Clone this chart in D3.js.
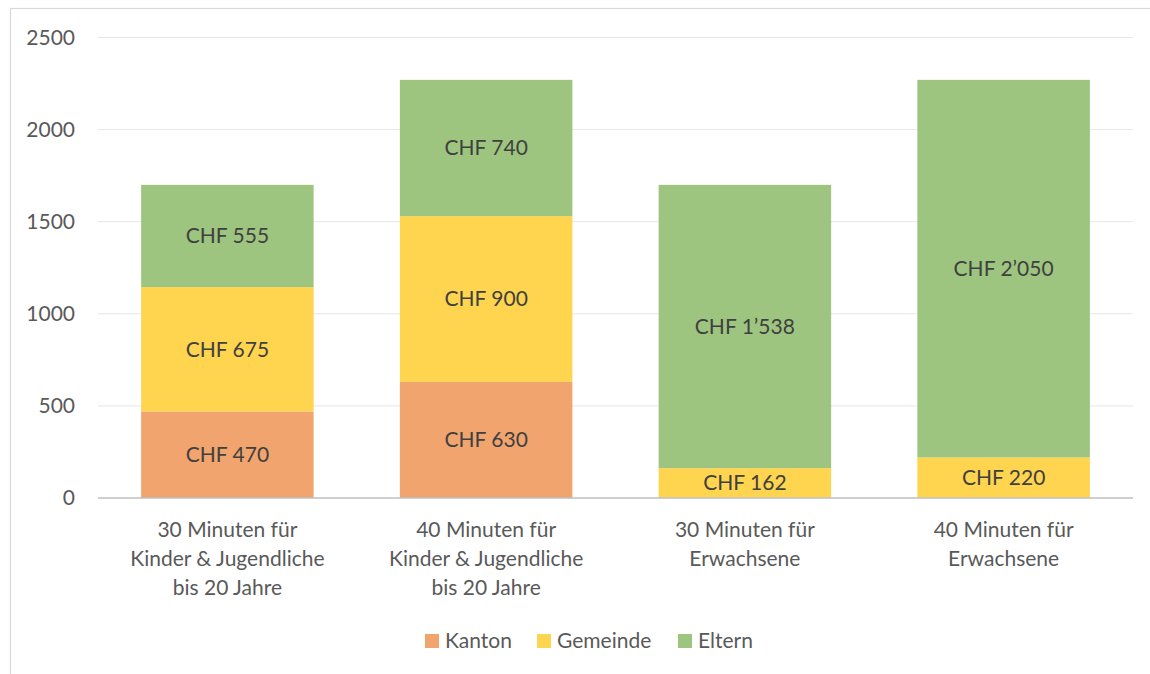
<!DOCTYPE html>
<html>
<head>
<meta charset="utf-8">
<script src="https://cdn.jsdelivr.net/npm/d3@7"></script>
<style>
  body { margin: 0; background: #fff; }
  text { font-family: Lato, "Open Sans", sans-serif; fill: #595959; }
</style>
</head>
<body>
<div id="chart"></div>
<script>
var categories = [
  ["30 Minuten für", "Kinder & Jugendliche", "bis 20 Jahre"],
  ["40 Minuten für", "Kinder & Jugendliche", "bis 20 Jahre"],
  ["30 Minuten für", "Erwachsene"],
  ["40 Minuten für", "Erwachsene"]
];
var seriesNames = ["Kanton", "Gemeinde", "Eltern"];
var kanton = [470, 630, 0, 0];
var gemeinde = [675, 900, 162, 220];
var eltern = [555, 740, 1538, 2050];
var yTicks = [0, 500, 1000, 1500, 2000, 2500];
var colors = ["#F1A46E", "#FFD44F", "#9DC57F"];

var W = 1150, H = 674;
var margin = {left: 98, right: 17, top: 37.5, bottom: 176};
var fs = "21px";

var svg = d3.select("#chart").append("svg")
    .attr("width", W)
    .attr("height", H);

// chart frame
svg.append("rect")
    .attr("x", 10.5).attr("y", 8.5)
    .attr("width", W + 20).attr("height", H + 20)
    .attr("fill", "none")
    .attr("stroke", "#d9d9d9")
    .attr("stroke-width", 1.2);

var x = d3.scaleBand()
    .domain(d3.range(categories.length))
    .range([margin.left, W - margin.right])
    .paddingInner(1 / 3)
    .paddingOuter(1 / 6);

var y = d3.scaleLinear()
    .domain([0, 2500])
    .range([H - margin.bottom, margin.top]);

// gridlines
svg.append("g").selectAll("line")
    .data(yTicks.filter(function(d) { return d > 0; }))
    .enter().append("line")
    .attr("x1", margin.left).attr("x2", W - margin.right)
    .attr("y1", function(d) { return y(d); })
    .attr("y2", function(d) { return y(d); })
    .attr("stroke", "#e6e6e6")
    .attr("stroke-width", 1);

// y tick labels
svg.append("g").selectAll("text")
    .data(yTicks)
    .enter().append("text")
    .attr("x", 75)
    .attr("y", function(d) { return y(d); })
    .attr("dy", "0.35em")
    .attr("text-anchor", "end")
    .style("font-size", fs)
    .text(function(d) { return d; });

var table = categories.map(function(c, i) {
  return {i: i, Kanton: kanton[i], Gemeinde: gemeinde[i], Eltern: eltern[i]};
});
var stacked = d3.stack().keys(seriesNames)(table);

var layers = svg.append("g").selectAll("g")
    .data(stacked)
    .enter().append("g")
    .attr("fill", function(d, i) { return colors[i]; });

layers.selectAll("rect")
    .data(function(d) { return d; })
    .enter().append("rect")
    .attr("x", function(d) { return x(d.data.i); })
    .attr("width", x.bandwidth())
    .attr("y", function(d) { return y(d[1]); })
    .attr("height", function(d) { return y(d[0]) - y(d[1]); });

function fmt(v) {
  return "CHF " + d3.format(",")(v).replace(/,/g, "\u2019");
}

layers.selectAll("text")
    .data(function(d) { return d.filter(function(s) { return s[1] - s[0] > 0; }); })
    .enter().append("text")
    .attr("x", function(d) { return x(d.data.i) + x.bandwidth() / 2; })
    .attr("y", function(d) { return (y(d[0]) + y(d[1])) / 2; })
    .attr("dy", "0.35em")
    .attr("text-anchor", "middle")
    .style("font-size", fs)
    .style("fill", "#404040")
    .text(function(d) { return fmt(d[1] - d[0]); });

// baseline
svg.append("line")
    .attr("x1", margin.left).attr("x2", W - margin.right)
    .attr("y1", y(0)).attr("y2", y(0))
    .attr("stroke", "#bfbfbf")
    .attr("stroke-width", 1.5);

// category labels
var cat = svg.append("g").selectAll("text")
    .data(categories)
    .enter().append("text")
    .attr("text-anchor", "middle")
    .attr("x", function(d, i) { return x(i) + x.bandwidth() / 2; })
    .style("font-size", fs);
cat.selectAll("tspan")
    .data(function(d) { return d; })
    .enter().append("tspan")
    .attr("x", function() { return d3.select(this.parentNode).attr("x"); })
    .attr("y", function(d, j) { return 537 + j * 29; })
    .text(function(d) { return d; });

// legend
var legendX = [425, 537, 678];
var legend = svg.append("g").selectAll("g")
    .data(seriesNames)
    .enter().append("g")
    .attr("transform", function(d, i) { return "translate(" + legendX[i] + ",634)"; });
legend.append("rect")
    .attr("width", 14).attr("height", 14)
    .attr("fill", function(d, i) { return colors[i]; });
legend.append("text")
    .attr("x", 20).attr("y", 7)
    .attr("dy", "0.35em")
    .style("font-size", fs)
    .text(function(d) { return d; });
</script>
</body>
</html>
